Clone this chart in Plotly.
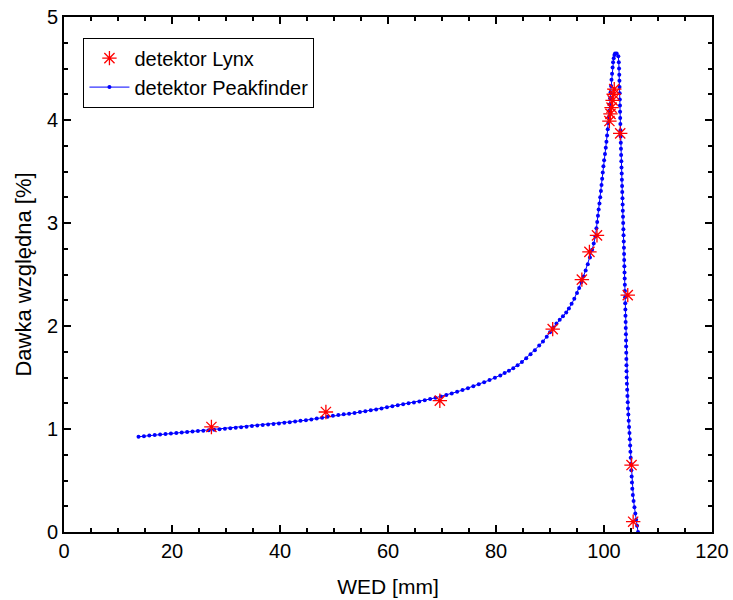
import plotly.graph_objects as go

# Lynx detector (red stars)
lynx_wed = [27.3, 48.5, 69.6, 90.5, 95.9, 97.3, 98.7, 101.0, 101.2, 101.4, 101.6, 101.8, 101.9, 103.0, 104.4, 105.1, 105.4]
lynx_dose = [1.02, 1.165, 1.275, 1.97, 2.45, 2.72, 2.88, 3.99, 4.06, 4.12, 4.19, 4.25, 4.30, 3.87, 2.30, 0.65, 0.10]

# Peakfinder detector (blue line with dots)
pf_wed = [
    13.8, 14.8, 15.8, 16.8, 17.8, 18.8, 19.8, 20.8, 21.8, 22.8, 23.8, 24.8, 25.8, 26.8, 27.8, 28.8, 29.8,
    30.8, 31.8, 32.8, 33.8, 34.8, 35.8, 36.8, 37.8, 38.8, 39.8, 40.8, 41.8, 42.8, 43.8, 44.8, 45.8, 46.8,
    47.8, 48.8, 49.8, 50.8, 51.8, 52.8, 53.8, 54.8, 55.8, 56.8, 57.8, 58.8, 59.8, 60.8, 61.8, 62.8, 63.8,
    64.8, 65.8, 66.8, 67.8, 68.8, 69.8, 70.8, 71.8, 72.8, 73.8, 74.8, 75.8, 76.8, 77.8, 78.8, 79.8, 80.8,
    81.6, 82.4, 83.2, 84.0, 84.8, 85.6, 86.4, 87.2, 88.0, 88.7, 89.4, 90.0, 90.6, 91.2, 91.8, 92.4, 93.0,
    93.5, 94.0, 94.5, 95.0, 95.4, 95.8, 96.2, 96.6, 97.0, 97.4, 97.8, 98.1, 98.4,
    98.6, 98.74, 98.88, 99.01, 99.16, 99.30, 99.43, 99.54, 99.66, 99.77, 99.89, 100.02, 100.18, 100.33,
    100.45, 100.57, 100.69, 100.80, 100.88, 100.96, 101.05, 101.13, 101.22, 101.31, 101.39, 101.49,
    101.59, 101.68, 101.80, 101.93, 102.05, 102.35, 102.65,
    102.74, 102.79, 102.83, 102.86, 102.88, 102.91, 102.93, 102.96, 102.98, 103.00, 103.03, 103.05,
    103.08, 103.11, 103.14, 103.17, 103.21, 103.24, 103.28, 103.31, 103.35, 103.38, 103.42, 103.45,
    103.48, 103.52, 103.55, 103.59, 103.62, 103.66, 103.69, 103.72, 103.74, 103.77, 103.80, 103.83,
    103.86, 103.88, 103.91, 103.93, 103.96, 103.98, 104.01, 104.03, 104.06, 104.08, 104.10, 104.12,
    104.14, 104.16, 104.18, 104.20, 104.24, 104.29, 104.34, 104.40, 104.45, 104.51, 104.57, 104.64,
    104.72, 104.78, 104.84, 104.89, 104.94, 105.00, 105.06, 105.12, 105.18, 105.24, 105.34, 105.48,
    105.64, 105.80, 105.95, 106.12, 106.30,
]
pf_dose = [
    0.925, 0.930, 0.936, 0.941, 0.946, 0.952, 0.957, 0.962, 0.966, 0.971, 0.975, 0.980, 0.984, 0.989, 0.993, 0.998, 1.003,
    1.008, 1.013, 1.018, 1.023, 1.028, 1.034, 1.039, 1.044, 1.049, 1.054, 1.060, 1.066, 1.072, 1.079, 1.086, 1.093, 1.101,
    1.109, 1.118, 1.128, 1.135, 1.142, 1.149, 1.156, 1.164, 1.172, 1.181, 1.190, 1.200, 1.211, 1.222, 1.231, 1.240, 1.249,
    1.258, 1.268, 1.279, 1.291, 1.303, 1.316, 1.330, 1.345, 1.361, 1.378, 1.396, 1.415, 1.434, 1.454, 1.475, 1.497, 1.520,
    1.543, 1.566, 1.591, 1.620, 1.650, 1.688, 1.725, 1.765, 1.810, 1.850, 1.895, 1.940, 1.985, 2.025, 2.060, 2.095, 2.130,
    2.170, 2.215, 2.265, 2.320, 2.370, 2.425, 2.480, 2.540, 2.600, 2.665, 2.740, 2.800, 2.870,
    2.95, 3.01, 3.07, 3.13, 3.19, 3.25, 3.31, 3.37, 3.43, 3.49, 3.55, 3.61, 3.67, 3.73,
    3.79, 3.85, 3.91, 3.97, 4.03, 4.09, 4.15, 4.21, 4.27, 4.33, 4.39, 4.45,
    4.51, 4.56, 4.60, 4.63, 4.645, 4.645, 4.62,
    4.56, 4.50, 4.44, 4.38, 4.32, 4.26, 4.20, 4.14, 4.08, 4.02, 3.96, 3.90,
    3.84, 3.78, 3.72, 3.66, 3.60, 3.54, 3.48, 3.42, 3.36, 3.30, 3.24, 3.18,
    3.12, 3.06, 3.00, 2.94, 2.88, 2.82, 2.76, 2.70, 2.64, 2.58, 2.52, 2.46,
    2.40, 2.34, 2.28, 2.22, 2.16, 2.10, 2.04, 1.98, 1.92, 1.86, 1.80, 1.74,
    1.68, 1.62, 1.56, 1.50, 1.44, 1.38, 1.32, 1.26, 1.20, 1.14, 1.08, 1.02,
    0.96, 0.90, 0.84, 0.78, 0.72, 0.66, 0.60, 0.54, 0.48, 0.42, 0.36, 0.30,
    0.24, 0.18, 0.12, 0.06, 0.00,
]

x_ticks = [0, 20, 40, 60, 80, 100, 120]
y_ticks = [0, 1, 2, 3, 4, 5]

FONT = "Liberation Sans, Arial, sans-serif"

fig = go.Figure()
fig.add_trace(go.Scatter(
    x=pf_wed, y=pf_dose, mode="lines+markers", name="detektor Peakfinder",
    line=dict(color="#0000ff", width=1),
    marker=dict(symbol="circle", size=4, color="#0000ff"),
))
fig.add_trace(go.Scatter(
    x=lynx_wed, y=lynx_dose, mode="markers", name="detektor Lynx",
    marker=dict(symbol="asterisk-open", size=12, line=dict(color="#ff0000", width=1.3), color="#ff0000"),
))

axis_common = dict(
    showline=True, linecolor="black", linewidth=2, mirror="allticks",
    ticks="inside", ticklen=7, tickwidth=2, tickcolor="black",
    showgrid=False, zeroline=False, automargin=False,
    ticklabeloverflow="allow",
    tickfont=dict(family=FONT, size=20, color="black"),
)

fig.update_xaxes(
    range=[0, 120], tickvals=x_ticks, ticktext=[str(v) for v in x_ticks],
    minor=dict(dtick=5, ticklen=4, tickwidth=2, tickcolor="black", ticks="inside", showgrid=False),
    title=dict(text="WED [mm]", font=dict(family=FONT, size=21, color="black"), standoff=18),
    **axis_common,
)
fig.update_yaxes(
    range=[0, 5], tickvals=y_ticks, ticktext=[str(v) for v in y_ticks],
    minor=dict(dtick=0.25, ticklen=4, tickwidth=2, tickcolor="black", ticks="inside", showgrid=False),
    title=dict(text="Dawka względna [%]", font=dict(family=FONT, size=22, color="black"), standoff=9),
    **axis_common,
)

fig.update_layout(
    width=733, height=600,
    margin=dict(l=64, r=21, t=17, b=68),
    paper_bgcolor="white", plot_bgcolor="white",
    font=dict(family=FONT, color="black"),
    showlegend=True,
    legend=dict(
        x=0.03, y=0.96, xanchor="left", yanchor="top",
        bgcolor="white", bordercolor="black", borderwidth=1,
        font=dict(family=FONT, size=20, color="black"),
        traceorder="reversed", itemwidth=40,
        tracegroupgap=0,
    ),
)

fig.write_html(
    "out.html",
    config={"displayModeBar": False},
    post_script="document.body.style.margin='0';document.body.style.overflow='hidden';",
)
